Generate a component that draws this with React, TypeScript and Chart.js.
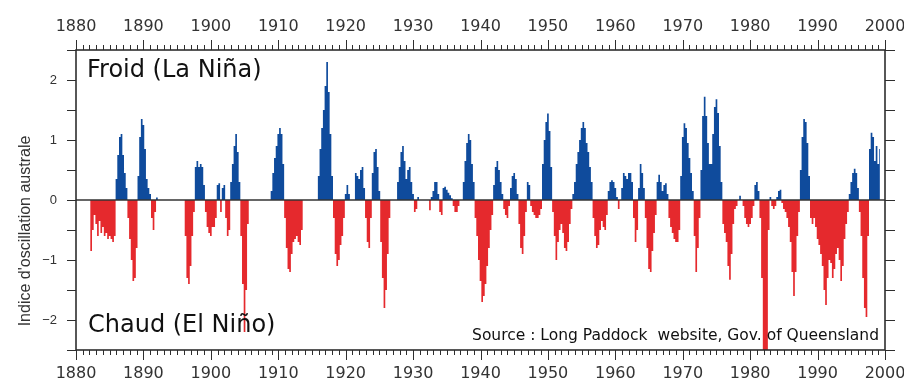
import React, { useEffect, useRef } from 'react';
import { Chart, registerables } from 'chart.js';

Chart.register(...registerables);

// Southern Oscillation Index, smoothed: 4 samples per year
const START_YEAR = 1880;
const STEP = 0.25;

const soi1880s = [
  null, null, null, null,
  null, null, null, null,
  0, -0.85, -0.5, -0.25,
  -0.4, -0.6, -0.35, -0.55,
  -0.45, -0.6, -0.55, -0.65,
  -0.6, -0.65, -0.7, -0.6,
  0.35, 0.75, 1.05, 1.1,
  0.75, 0.45, 0.2, -0.3,
  -0.65, -1.0, -1.35, -1.3,
  -0.8, 0.4, 1.05, 1.35,
];
const soi1890s = [
  1.25, 0.85, 0.35, 0.2,
  0.1, -0.3, -0.5, -0.2,
  0.04, 0, 0, 0,
  0, 0, 0, 0,
  0, 0, 0, 0,
  0, 0, 0, 0,
  0, -0.6, -1.3, -1.4,
  -1.1, -0.6, -0.2, 0.55,
  0.65, 0.55, 0.6, 0.55,
  0.25, -0.2, -0.45, -0.55,
];
const soi1900s = [
  -0.6, -0.45, -0.45, -0.3,
  0.25, 0.28, -0.2, 0.2,
  0.25, -0.3, -0.6, -0.5,
  0.3, 0.6, 0.9, 1.1,
  0.8, 0.3, -0.6, -1.4,
  -2.2, -1.5, -0.4, 0,
  0, 0, 0, 0,
  0, 0, 0, 0,
  0, 0, 0, 0,
  0.15, 0.45, 0.7, 0.9,
];
const soi1910s = [
  1.1, 1.2, 1.1, 0.6,
  -0.3, -0.8, -1.15, -1.2,
  -0.9, -0.7, -0.65, -0.6,
  -0.7, -0.75, -0.5, 0,
  0, 0, 0, 0,
  0, 0, 0, 0,
  0.4, 0.85, 1.2, 1.5,
  1.9, 2.3, 1.8, 1.1,
  0.4, -0.3, -0.9, -1.1,
  -1.0, -0.75, -0.6, -0.3,
];
const soi1920s = [
  0.1, 0.25, 0.1, 0,
  0, 0, 0.45, 0.4,
  0.35, 0.5, 0.55, 0.2,
  -0.3, -0.7, -0.8, -0.3,
  0.45, 0.8, 0.85, 0.55,
  0.15, -0.7, -1.3, -1.8,
  -1.5, -0.9, -0.3, 0,
  0, 0, 0, 0.3,
  0.55, 0.8, 0.9, 0.65,
  0.35, 0.5, 0.55, 0.3,
];
const soi1930s = [
  0.1, -0.2, -0.15, 0.05,
  0, 0, 0, 0,
  0, 0, -0.17, 0.05,
  0.15, 0.3, 0.3, 0.1,
  -0.2, -0.25, 0.2, 0.22,
  0.17, 0.12, 0.08, 0.03,
  -0.1, -0.2, -0.2, -0.1,
  0, 0, 0.3, 0.65,
  0.95, 1.1, 1.0, 0.6,
  0.3, -0.3, -0.6, -1.0,
];
const soi1940s = [
  -1.35, -1.7, -1.6, -1.4,
  -1.1, -0.8, -0.5, -0.25,
  0.25, 0.55, 0.65, 0.5,
  0.3, 0.1, -0.15, -0.25,
  -0.3, -0.1, 0.2, 0.4,
  0.45, 0.35, 0.1, -0.4,
  -0.8, -0.9, -0.6, -0.2,
  0.3, 0.25, -0.1, -0.2,
  -0.25, -0.3, -0.3, -0.25,
  -0.15, 0.6, 1.0, 1.3,
];
const soi1950s = [
  1.44, 1.15, 0.55, -0.2,
  -0.6, -1.0, -0.7, -0.5,
  -0.4, -0.55, -0.8, -0.85,
  -0.7, -0.4, -0.15, 0.1,
  0.3, 0.6, 0.8, 1.0,
  1.2, 1.3, 1.2, 0.95,
  0.8, 0.55, 0.3, -0.3,
  -0.6, -0.8, -0.75, -0.5,
  -0.35, -0.45, -0.5, -0.25,
  0.15, 0.3, 0.33, 0.3,
];
const soi1960s = [
  0.2, 0.05, -0.15, 0,
  0.2, 0.45, 0.4, 0.35,
  0.45, 0.45, 0.3, -0.3,
  -0.7, -0.5, 0.2, 0.6,
  0.45, 0.2, -0.3, -0.8,
  -1.15, -1.2, -0.85, -0.55,
  -0.25, 0.3, 0.42, 0.3,
  0.15, 0.25, 0.28, 0.1,
  -0.3, -0.45, -0.55, -0.65,
  -0.7, -0.7, -0.5, 0.4,
];
const soi1970s = [
  1.05, 1.28, 1.2, 0.95,
  0.7, 0.45, 0.15, -0.6,
  -1.2, -0.8, -0.3, 0.5,
  1.4, 1.72, 1.4, 0.95,
  0.6, 0.6, 1.1, 1.55,
  1.68, 1.45, 0.9, 0.3,
  -0.4, -0.55, -0.7, -1.1,
  -1.33, -0.9, -0.4, -0.15,
  -0.1, 0, 0.07, 0,
  -0.1, -0.3, -0.4, -0.45,
];
const soi1980s = [
  -0.4, -0.3, -0.1, 0.25,
  0.3, 0.15, -0.3, -1.3,
  -2.6, -2.8, -2.6, -0.5,
  0.05, -0.1, -0.15, -0.1,
  0.05, 0.15, 0.17, -0.05,
  -0.15, -0.2, -0.3, -0.45,
  -0.7, -1.2, -1.6, -1.2,
  -0.6, -0.2, 0.5, 1.05,
  1.35, 1.3, 0.95, 0.4,
  -0.3, -0.4, -0.3, -0.45,
];
const soi1990s = [
  -0.65, -0.75, -0.9, -1.1,
  -1.5, -1.75, -1.3, -1.0,
  -1.05, -1.3, -1.15, -0.9,
  -0.8, -1.0, -1.35, -1.1,
  -0.65, -0.4, -0.2, 0.1,
  0.3, 0.45, 0.52, 0.45,
  0.2, -0.2, -0.6, -1.3,
  -1.8, -1.95, -0.6, 0.85,
  1.12, 1.05, 0.65, 0.9,
  0.6, 0.85, null, null,
];

const X_MIN = 1880;
const X_MAX = 2000;
const Y_MIN = -2.5;
const Y_MAX = 2.5;
const yTickValues = [-2, -1, 0, 1, 2];

const Y_TITLE = "Indice d'oscillation australe";
const TEXT_COLD = 'Froid (La Niña)';
const TEXT_WARM = 'Chaud (El Niño)';
const TEXT_SOURCE = 'Source : Long Paddock  website, Gov. of Queensland';

const BLUE = '#0f4b9c';
const RED = '#e5292d';
const AXIS = '#2e2e2e';

const series = [
  ...soi1880s, ...soi1890s, ...soi1900s, ...soi1910s, ...soi1920s, ...soi1930s,
  ...soi1940s, ...soi1950s, ...soi1960s, ...soi1970s, ...soi1980s, ...soi1990s,
];

const framePlugin = {
  id: 'soiFrame',
  afterDatasetsDraw(chart: any) {
    const { ctx, chartArea, scales } = chart;
    const { left, right, top, bottom } = chartArea;
    const x = scales.x;
    const y = scales.y;
    ctx.save();
    // zero line
    const y0 = y.getPixelForValue(0);
    ctx.strokeStyle = '#333';
    ctx.lineWidth = 1.5;
    ctx.beginPath();
    ctx.moveTo(left, y0);
    ctx.lineTo(right, y0);
    ctx.stroke();
    // frame
    ctx.strokeStyle = AXIS;
    ctx.lineWidth = 1.6;
    ctx.strokeRect(left, top, right - left, bottom - top);
    // year ticks (top and bottom, outward)
    ctx.lineWidth = 1;
    ctx.beginPath();
    for (let yr = X_MIN; yr <= X_MAX; yr += 1) {
      const px = Math.round(x.getPixelForValue(yr)) + 0.5;
      const len = yr % 10 === 0 ? 10 : 5;
      ctx.moveTo(px, top);
      ctx.lineTo(px, top - len);
      ctx.moveTo(px, bottom);
      ctx.lineTo(px, bottom + len);
    }
    // value ticks (left and right, outward)
    for (let v = Y_MIN; v <= Y_MAX + 1e-9; v += 0.5) {
      const py = Math.round(y.getPixelForValue(v)) + 0.5;
      ctx.moveTo(left, py);
      ctx.lineTo(left - 9, py);
      ctx.moveTo(right, py);
      ctx.lineTo(right + 10, py);
    }
    ctx.stroke();

    // annotations
    ctx.fillStyle = '#111';
    ctx.textBaseline = 'alphabetic';
    ctx.textAlign = 'left';
    ctx.font = '24px "DejaVu Sans"';
    ctx.fillText(TEXT_COLD, left + 11, top + 27);
    ctx.fillText(TEXT_WARM, left + 12, bottom - 18);
    ctx.font = '15.5px "DejaVu Sans"';
    ctx.textAlign = 'right';
    ctx.fillText(TEXT_SOURCE, right - 6, bottom - 10);

    // y title
    ctx.save();
    ctx.translate(26, 231);
    ctx.rotate(-Math.PI / 2);
    ctx.textAlign = 'center';
    ctx.textBaseline = 'middle';
    ctx.fillStyle = '#333';
    ctx.font = '16px "Liberation Sans"';
    ctx.fillText(Y_TITLE, 0, 0);
    ctx.restore();

    ctx.restore();
  },
};

const xTicks = {
  stepSize: 10,
  autoSkip: false,
  maxRotation: 0,
  padding: 14,
  color: '#333',
  font: { family: 'DejaVu Sans', size: 16 },
  callback: (v: any) => String(v),
};

export default function App() {
  const ref = useRef<HTMLCanvasElement | null>(null);

  useEffect(() => {
    if (!ref.current) return;
    const points = series.map((v, i) => ({ x: START_YEAR + i * STEP, y: v }));
    const chart = new Chart(ref.current, {
      type: 'line',
      data: {
        datasets: [
          {
            data: points as any,
            borderWidth: 0,
            borderColor: 'rgba(0,0,0,0)',
            pointRadius: 0,
            stepped: 'middle',
            spanGaps: false,
            fill: { target: 'origin', above: BLUE, below: RED },
          },
        ],
      },
      options: {
        responsive: false,
        animation: false,
        events: [],
        layout: { padding: { left: 0, right: 19, top: 0, bottom: 0 } },
        plugins: { legend: { display: false }, tooltip: { enabled: false } },
        scales: {
          x: {
            type: 'linear',
            position: 'bottom',
            min: X_MIN,
            max: X_MAX,
            ticks: xTicks,
            grid: { display: false, drawTicks: false },
            border: { display: false },
            afterFit: (s: any) => {
              s.height = 33;
              s.paddingLeft = 0;
              s.paddingRight = 0;
            },
          },
          xTop: {
            type: 'linear',
            axis: 'x',
            position: 'top',
            min: X_MIN,
            max: X_MAX,
            ticks: xTicks,
            grid: { display: false, drawTicks: false },
            border: { display: false },
            afterFit: (s: any) => {
              s.height = 50;
              s.paddingLeft = 0;
              s.paddingRight = 0;
            },
          },
          y: {
            type: 'linear',
            position: 'left',
            min: Y_MIN,
            max: Y_MAX,
            afterBuildTicks: (s: any) => {
              s.ticks = yTickValues.map((v) => ({ value: v }));
            },
            ticks: {
              padding: 19,
              color: '#333',
              font: { family: 'Liberation Sans', size: 13 },
              callback: (v: any) => (v < 0 ? '\u2212' + Math.abs(v) : String(v)),
            },
            grid: { display: false, drawTicks: false },
            border: { display: false },
            afterFit: (s: any) => {
              s.width = 76;
            },
          },
        },
      } as any,
      plugins: [framePlugin],
    });
    return () => chart.destroy();
  }, []);

  return (
    <div style={{ position: 'absolute', left: 0, top: 0, width: 904, height: 383, background: '#fff' }}>
      <canvas ref={ref} width={904} height={383} />
    </div>
  );
}
